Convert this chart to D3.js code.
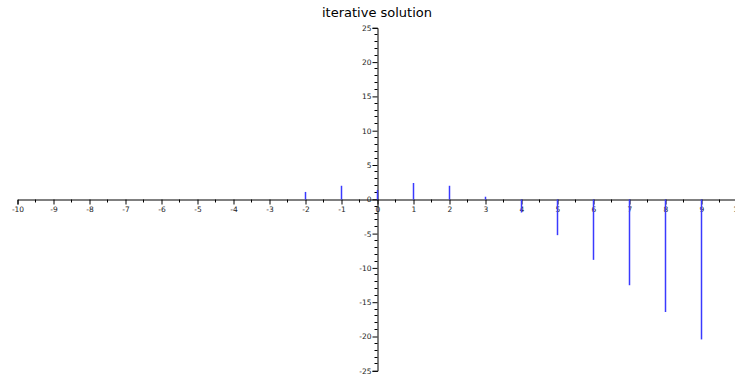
<!DOCTYPE html>
<html>
<head>
<meta charset="utf-8">
<script src="https://cdn.jsdelivr.net/npm/d3@7"></script>
<style>
  html, body { margin: 0; padding: 0; background: #fff; }
  svg { display: block; font-family: "DejaVu Sans", sans-serif; }
</style>
</head>
<body>
<svg id="chart" width="735" height="375"></svg>
<script>
// Sequence produced by the iterative solution, one stem per step n
const steps  = [-2, -1, 0, 1, 2, 3, 4, 5, 6, 7, 8, 9];
const values = [1.0, 1.9, 1.3, 2.3, 1.9, 0.3, -2.0, -5.3, -8.9, -12.6, -16.5, -20.5];
const xMajorTicks = d3.range(-10, 11, 1);
const xMinorTicks = d3.range(-9.5, 10, 1);
const yMajorTicks = d3.range(-25, 26, 5);
const yMinorTicks = d3.range(-25, 26, 1).filter(v => v % 5 !== 0);
const title = "iterative solution";

const svg = d3.select("#chart");
const x = d3.scaleLinear().domain([-10, 10]).range([17, 737]);
const y = d3.scaleLinear().domain([-25, 25]).range([370.3, 27.3]);

const x0 = Math.round(x(0)) + 0.5;
const y0 = Math.round(y(0)) + 0.5;
const plain = d => String(d);   // ASCII hyphen for negatives

// Horizontal axis through y = 0
const xAxis = d3.axisBottom(x)
  .tickValues(xMajorTicks)
  .tickSize(5)
  .tickFormat(plain);
const gx = svg.append("g")
  .attr("transform", `translate(0.5,${y0})`)
  .call(xAxis);
gx.select(".domain").attr("stroke", "#000");
gx.selectAll("text").attr("font-size", 7.5).attr("font-family", "DejaVu Sans, sans-serif")
  .attr("fill", "#222").attr("dy", "0.6em").attr("y", 7.5);

svg.append("g")
  .selectAll("line")
  .data(xMinorTicks)
  .join("line")
  .attr("x1", d => Math.round(x(d)) + 0.5)
  .attr("x2", d => Math.round(x(d)) + 0.5)
  .attr("y1", y0)
  .attr("y2", y0 + 3)
  .attr("stroke", "#000");

// Vertical axis through x = 0
const yAxis = d3.axisLeft(y)
  .tickValues(yMajorTicks)
  .tickSize(5)
  .tickFormat(plain);
const gy = svg.append("g")
  .attr("transform", `translate(${x0},0.5)`)
  .call(yAxis);
gy.select(".domain").attr("stroke", "#000");
gy.selectAll("text").attr("font-size", 7.5).attr("font-family", "DejaVu Sans, sans-serif")
  .attr("fill", "#222").attr("x", -6);

svg.append("g")
  .selectAll("line")
  .data(yMinorTicks)
  .join("line")
  .attr("x1", x0 - 3)
  .attr("x2", x0)
  .attr("y1", d => Math.round(y(d)) + 0.5)
  .attr("y2", d => Math.round(y(d)) + 0.5)
  .attr("stroke", "#000");

// Stems, drawn over the axes
svg.append("g")
  .selectAll("line")
  .data(steps.map((s, i) => ({ s, v: values[i] })))
  .join("line")
  .attr("x1", d => x(d.s) + 0.5)
  .attr("x2", d => x(d.s) + 0.5)
  .attr("y1", y0)
  .attr("y2", d => y(d.v))
  .attr("stroke", "#3a3aff")
  .attr("stroke-width", 1.5);

// Title
svg.append("text")
  .attr("x", x(0))
  .attr("y", 17)
  .attr("text-anchor", "middle")
  .attr("font-size", 13)
  .attr("fill", "#000")
  .text(title);
</script>
</body>
</html>
